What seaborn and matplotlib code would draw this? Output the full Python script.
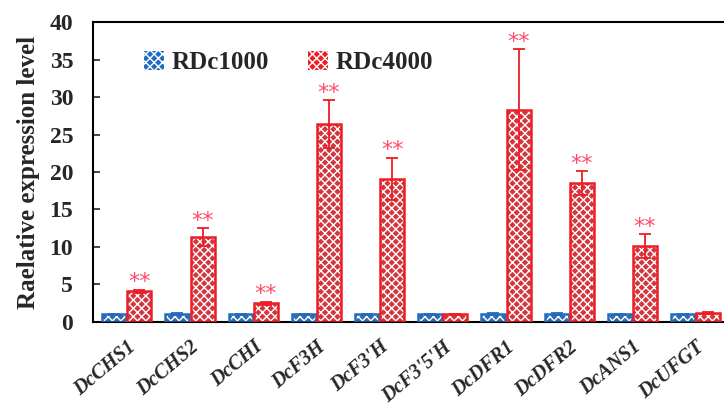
import matplotlib
matplotlib.use("Agg")
import matplotlib.pyplot as plt
from matplotlib.patches import Patch, Rectangle
import pandas as pd
import seaborn as sns
import numpy as np

genes = ["DcCHS1", "DcCHS2", "DcCHI", "DcF3H", "DcF3'H", "DcF3'5'H",
         "DcDFR1", "DcDFR2", "DcANS1", "DcUFGT"]
rdc1000 = [1.0, 1.1, 1.0, 1.0, 1.0, 1.0, 1.1, 1.1, 1.0, 1.0]
rdc1000_err = [0.05, 0.15, 0.05, 0.05, 0.05, 0.05, 0.15, 0.15, 0.05, 0.05]
rdc4000 = [4.1, 11.3, 2.5, 26.4, 19.1, 1.0, 28.3, 18.5, 10.1, 1.2]
rdc4000_err = [0.2, 1.2, 0.2, 3.2, 2.8, 0.1, 8.1, 1.6, 1.6, 0.15]
signif = ["**", "**", "**", "**", "**", "", "**", "**", "**", ""]
groups = ["RDc1000", "RDc4000"]

blue = "#1f6cc0"
red = "#ee1c25"
star_col = "#ff4a6a"

df = pd.DataFrame({
    "gene": genes * 2,
    "group": ["RDc1000"] * len(genes) + ["RDc4000"] * len(genes),
    "value": rdc1000 + rdc4000,
})

sns.set_style("ticks")
plt.rcParams["font.family"] = ["Liberation Serif", "DejaVu Serif"]
plt.rcParams["hatch.linewidth"] = 1.0

fig = plt.figure(figsize=(7.24, 4.09), dpi=100)
ax = fig.add_axes([0.128, 0.213, 0.872, 0.733])

sns.barplot(data=df, x="gene", y="value", hue="group", palette=[blue, red],
            width=0.8, gap=0.05, errorbar=None, legend=False, ax=ax)

errs = {"RDc1000": rdc1000_err, "RDc4000": rdc4000_err}
cols = {"RDc1000": blue, "RDc4000": red}
for cont, g in zip(ax.containers, groups):
    xs = []
    hs = []
    for p in cont.patches:
        p.set_hatch("xxxx")
        p.set_edgecolor("white")
        p.set_linewidth(0)
        ax.add_patch(Rectangle(p.get_xy(), p.get_width(), p.get_height(),
                               fill=False, edgecolor=cols[g], lw=1.8, zorder=3))
        xs.append(p.get_x() + p.get_width() / 2)
        hs.append(p.get_height())
    ax.errorbar(xs, hs, yerr=errs[g], fmt="none", ecolor=cols[g],
                elinewidth=1.3, capsize=4, capthick=1.3, zorder=4)
    if g == "RDc4000":
        for x, h, e, s in zip(xs, hs, rdc4000_err, signif):
            if s:
                ax.text(x, h + e + 0.2, s, ha="center", va="baseline",
                        color=star_col, fontsize=16,
                        family="DejaVu Sans")

ax.set_ylim(0, 40)
ax.set_xlim(-0.54, 9.45)
ax.set_yticks(range(0, 41, 5))
ax.set_ylabel("Raelative expression level", fontsize=18, fontweight="bold",
              labelpad=7)
ax.set_xlabel("")
ax.tick_params(axis="y", labelsize=17, width=1.2, length=5, direction="in",
               pad=14)
ax.tick_params(axis="x", length=0, pad=11)
for lab in ax.get_yticklabels():
    lab.set_fontweight("bold")
ax.set_xticks(range(len(genes)))
ax.set_xticklabels(genes, rotation=40, ha="right", rotation_mode="anchor",
                   fontsize=14.5, fontweight="bold", fontstyle="italic")

for s in ["left", "bottom", "top"]:
    ax.spines[s].set_linewidth(1.5)
    ax.spines[s].set_color("black")
ax.spines["right"].set_visible(False)

handles = [Patch(facecolor=blue, edgecolor="white", hatch="xxxx", lw=0),
           Patch(facecolor=red, edgecolor="white", hatch="xxxx", lw=0)]
ax.legend(handles, groups, loc="upper left", bbox_to_anchor=(0.045, 0.98),
          ncol=2, frameon=False, handlelength=0.8, handleheight=0.8,
          handletextpad=0.3, columnspacing=1.6,
          prop={"family": "Liberation Serif", "weight": "bold", "size": 18})

fig.savefig("out.png", dpi=100)
